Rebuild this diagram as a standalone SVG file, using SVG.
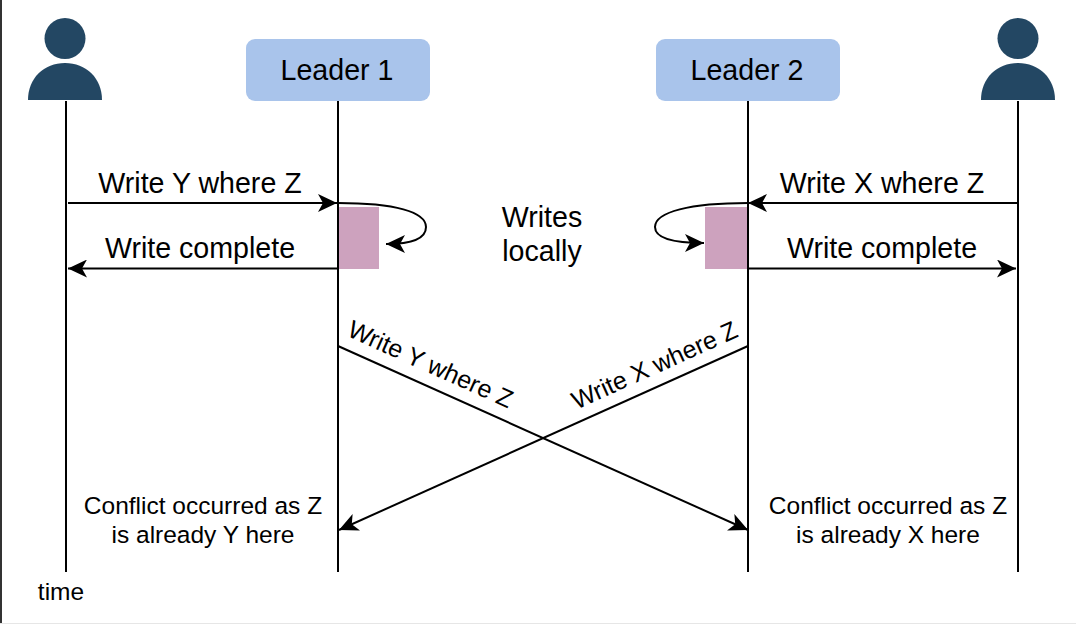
<svg xmlns="http://www.w3.org/2000/svg" width="1076" height="624" viewBox="0 0 1076 624">
<style>
text{font-family:"Liberation Sans",Arial,sans-serif;fill:#000;text-anchor:middle}
.md{font-size:24.500px}
.rot{font-size:25px}
.a{font-size:28.600px}
.life{stroke:#000;stroke-width:2;fill:none}
.conn{stroke:#000;stroke-width:2;fill:none}
.user{fill:#234763}
.box{fill:#a9c4eb}
.act{fill:#cda2be}
</style>
<defs>
<marker id="arr" markerUnits="userSpaceOnUse" markerWidth="20" markerHeight="18" refX="19" refY="9" orient="auto">
<path d="M0 0 L19 9 L0 18 L5 9 Z" fill="#000"/>
</marker>
</defs>
<rect width="1076" height="624" fill="#fff"/>
<path d="M1 0V624" stroke="#333" stroke-width="2"/>
<path d="M0 623.500H1076" stroke="#e6e6e6" stroke-width="1"/>
<g id="user-left"><circle class="user" cx="65" cy="38.500" r="20.500"/><path class="user" d="M28 100C28 78 44 63 65 63S102 78 102 100Z"/></g>
<g id="user-right"><circle class="user" cx="1018" cy="38.500" r="20.500"/><path class="user" d="M981 100C981 78 997 63 1018 63S1055 78 1055 100Z"/></g>
<g id="leader-1"><rect class="box" x="246" y="39" width="184" height="62" rx="9"/><text class="a" x="337" y="80">Leader 1</text></g>
<g id="leader-2"><rect class="box" x="656" y="39" width="184" height="62" rx="9"/><text class="a" x="747" y="80">Leader 2</text></g>
<g id="activation-1"><rect class="act" x="338" y="207" width="41" height="62"/></g>
<g id="activation-2"><rect class="act" x="705" y="207" width="42" height="62"/></g>
<g id="lifelines">
<path class="life" d="M66 101V572"/><path class="life" d="M338 101V572"/><path class="life" d="M748 101V572"/><path class="life" d="M1018 101V572"/>
</g>
<g id="connectors">
<path class="conn" marker-end="url(#arr)" d="M68 203H337"/>
<path class="conn" marker-end="url(#arr)" d="M338 203C395 203 426 212 426 227C426 239 410 244 386 244"/>
<path class="conn" marker-end="url(#arr)" d="M338 268.500H68"/>
<path class="conn" marker-end="url(#arr)" d="M1017 203H748"/>
<path class="conn" marker-end="url(#arr)" d="M748 203C690 203 655 212 655 227C655 239 675 243 704 243"/>
<path class="conn" marker-end="url(#arr)" d="M748 268.500H1016"/>
<path class="conn" marker-end="url(#arr)" d="M338 346L748 530"/>
<path class="conn" marker-end="url(#arr)" d="M748 346L339 530"/>
</g>
<g id="labels">
<text class="a" x="200" y="193">Write Y where Z</text>
<text class="a" x="200" y="258">Write complete</text>
<text class="a" x="882" y="193">Write X where Z</text>
<text class="a" x="882" y="258">Write complete</text>
<text class="a" x="542" y="227">Writes</text>
<text class="a" x="542" y="261">locally</text>
<text class="rot" transform="translate(427 372) rotate(24.200)">Write Y where Z</text>
<text class="rot" transform="translate(658 373) rotate(-24.200)">Write X where Z</text>
<text class="md" x="203" y="514">Conflict occurred as Z</text>
<text class="md" x="203" y="543">is already Y here</text>
<text class="md" x="888" y="514">Conflict occurred as Z</text>
<text class="md" x="888" y="543">is already X here</text>
<text class="md" x="61" y="600">time</text>
</g>
</svg>
